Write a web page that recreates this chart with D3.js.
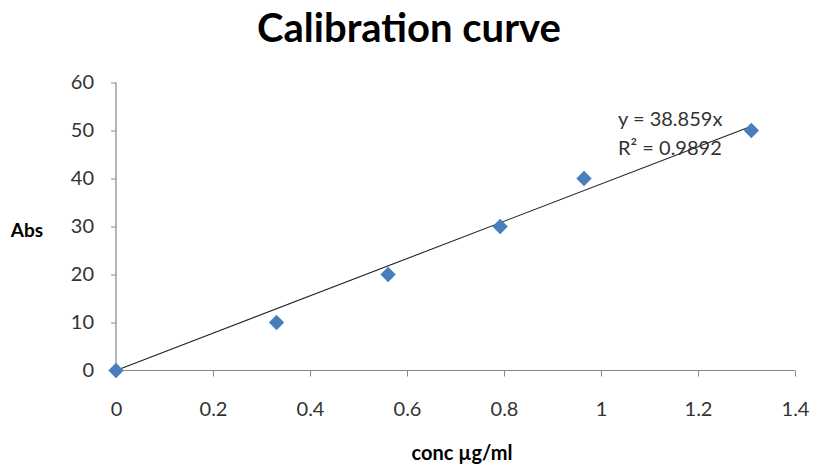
<html>
<head>
<script src="https://d3js.org/d3.v7.min.js"></script>
<style>
body { margin: 0; background: white; }
text { font-family: Lato, "Open Sans", sans-serif; }
</style>
</head>
<body>
<svg id="chart" width="817" height="467"></svg>
<script>
// data
var concValues = [0, 0.331, 0.561, 0.792, 0.965, 1.31];
var absValues = [0, 10, 20, 30, 40, 50];
var xTicks = [0, 0.2, 0.4, 0.6, 0.8, 1, 1.2, 1.4];
var yTicks = [0, 10, 20, 30, 40, 50, 60];
var slope = 38.859;
var eqLines = ["y = 38.859x", "R² = 0.9892"];

var svg = d3.select("#chart");
var x = d3.scaleLinear().domain([0, 1.4]).range([116, 795]);
var y = d3.scaleLinear().domain([0, 60]).range([370.5, 82.5]);

// title
svg.append("text")
  .attr("x", 409).attr("y", 42)
  .attr("text-anchor", "middle")
  .style("font-size", "40px").style("font-weight", "bold")
  .text("Calibration curve");

// axes
var xAxis = svg.append("g")
  .attr("transform", "translate(0," + y(0) + ")")
  .call(d3.axisBottom(x).tickValues(xTicks).tickSize(6).tickPadding(25)
    .tickFormat(function (d) { return d3.format("~g")(d); }));
var yAxis = svg.append("g")
  .attr("transform", "translate(" + x(0) + ",0)")
  .call(d3.axisLeft(y).tickValues(yTicks).tickSize(5).tickPadding(17));

[xAxis, yAxis].forEach(function (g) {
  g.select(".domain").attr("stroke", "#888").attr("stroke-width", 1.2);
  g.selectAll(".tick line").attr("stroke", "#888");
  g.selectAll(".tick text").attr("fill", "#333").style("font-size", "20px")
    .style("font-family", "Lato, 'Open Sans', sans-serif");
});
yAxis.select(".domain").attr("d", "M0," + y(60) + "V" + y(0));
xAxis.select(".domain").attr("d", "M" + x(0) + ",0H" + x(1.4));

// trendline
var xMax = d3.max(concValues);
svg.append("line")
  .attr("x1", x(0)).attr("y1", y(0))
  .attr("x2", x(xMax)).attr("y2", y(slope * xMax))
  .attr("stroke", "#222").attr("stroke-width", 1.1);

// points
svg.append("g").selectAll("path")
  .data(concValues)
  .enter().append("path")
  .attr("d", d3.symbol().type(d3.symbolDiamond2).size(150))
  .attr("transform", function (d, i) { return "translate(" + x(d) + "," + y(absValues[i]) + ")"; })
  .attr("fill", "#4a7ebb");

// equation
svg.append("text")
  .attr("x", 618).attr("y", 126)
  .style("font-size", "20px").attr("fill", "#333")
  .selectAll("tspan").data(eqLines).enter().append("tspan")
  .attr("x", 618).attr("dy", function (d, i) { return i === 0 ? 0 : 29; })
  .text(function (d) { return d; });

// axis titles
svg.append("text")
  .attr("x", 27).attr("y", 237)
  .attr("text-anchor", "middle")
  .style("font-size", "19px").style("font-weight", "bold")
  .text("Abs");
svg.append("text")
  .attr("x", 462).attr("y", 460)
  .attr("text-anchor", "middle")
  .style("font-size", "20px").style("font-weight", "bold")
  .text("conc µg/ml");
</script>
</body>
</html>
